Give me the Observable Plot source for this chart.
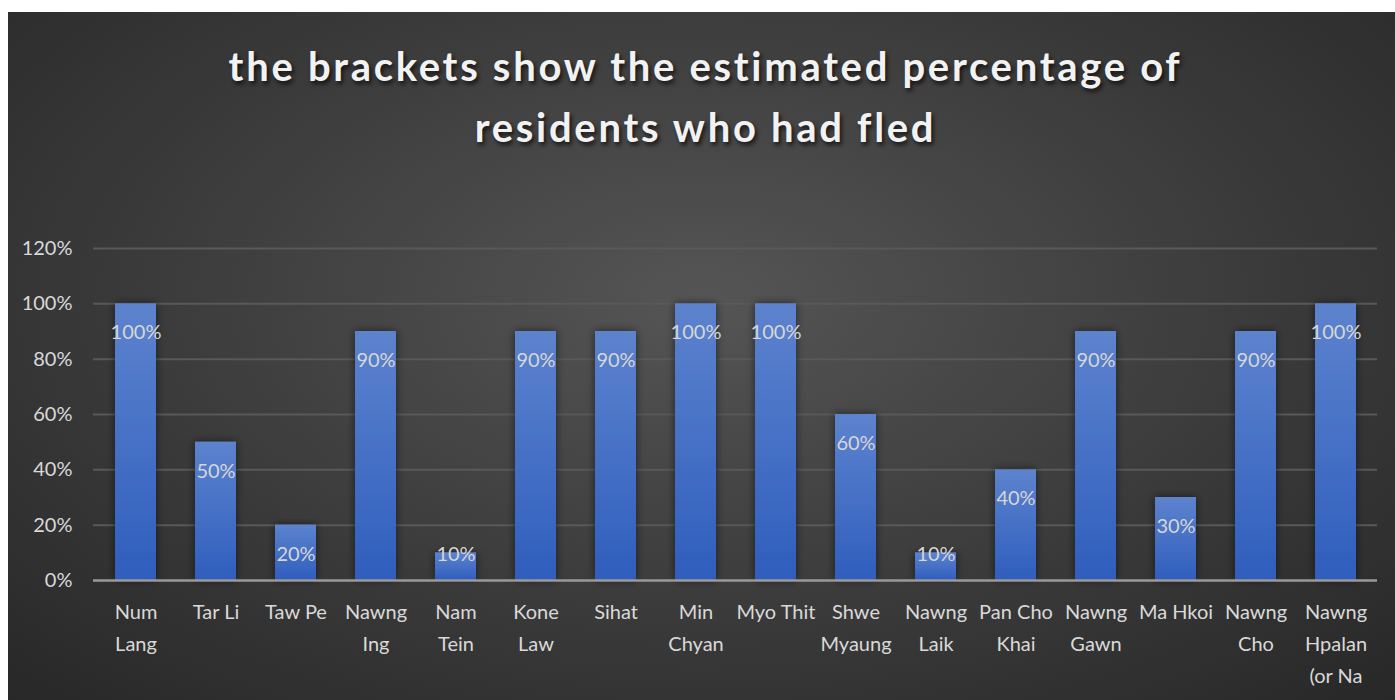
<!DOCTYPE html>
<html>
<head>
<meta charset="utf-8">
<script src="https://cdn.jsdelivr.net/npm/d3@7"></script>
<script src="https://cdn.jsdelivr.net/npm/@observablehq/plot@0.6"></script>
<style>
  html, body { margin: 0; padding: 0; background: #fff; overflow: hidden; }
  #panel {
    position: absolute; left: 8px; top: 12px; width: 1387px; height: 720px; overflow: hidden;
    background: radial-gradient(ellipse 75% 80% at 50% 40%, #555555 0%, #3a3a3a 55%, #262626 100%);
    font-family: Lato, "Open Sans", sans-serif;
  }
  #title {
    position: absolute; left: 0; top: 24px; width: 1395px; text-align: center;
    color: #f2f2f2; font-weight: bold; font-size: 40px; line-height: 61px; letter-spacing: 2.7px;
    text-shadow: 2px 3px 4px rgba(0,0,0,0.7);
  }
  #chart { position: absolute; left: 0; top: 188px; }
</style>
</head>
<body>
<div id="panel">
  <div id="title">the brackets show the estimated percentage of<br>residents who had fled</div>
  <div id="chart"></div>
</div>
<script>
const villages = ["Num Lang", "Tar Li", "Taw Pe", "Nawng Ing", "Nam Tein", "Kone Law", "Sihat", "Min Chyan", "Myo Thit", "Shwe Myaung", "Nawng Laik", "Pan Cho Khai", "Nawng Gawn", "Ma Hkoi", "Nawng Cho", "Nawng Hpalan (or Na Sham)"];
const fledPct = [100, 50, 20, 90, 10, 90, 90, 100, 100, 60, 10, 40, 90, 30, 90, 100];
const tickLabels = ["Num\nLang", "Tar Li", "Taw Pe", "Nawng\nIng", "Nam\nTein", "Kone\nLaw", "Sihat", "Min\nChyan", "Myo Thit", "Shwe\nMyaung", "Nawng\nLaik", "Pan Cho\nKhai", "Nawng\nGawn", "Ma Hkoi", "Nawng\nCho", "Nawng\nHpalan\n(or Na\nSham)"];
const yTicks = [0, 20, 40, 60, 80, 100, 120];

const data = villages.map((v, i) => ({village: v, pct: fledPct[i]}));
const labelOf = new Map(villages.map((v, i) => [v, tickLabels[i]]));

const defs = () => {
  const ns = "http://www.w3.org/2000/svg";
  const d = document.createElementNS(ns, "defs");
  d.innerHTML = `
    <linearGradient id="barGrad" x1="0" y1="0" x2="0" y2="1">
      <stop offset="0" stop-color="#5d83ce"/>
      <stop offset="1" stop-color="#2f5ebd"/>
    </linearGradient>
    <filter id="barShadow" x="-40%" y="-10%" width="180%" height="120%">
      <feDropShadow dx="0" dy="0" stdDeviation="4" flood-color="#000" flood-opacity="0.55"/>
    </filter>`;
  return d;
};

const chart = Plot.plot({
  width: 1387,
  height: 540,
  marginLeft: 85,
  marginRight: 18,
  marginTop: 48,
  marginBottom: 160,
  style: {background: "transparent", fontFamily: "Lato, 'Open Sans', sans-serif", overflow: "visible"},
  x: {domain: villages, paddingInner: 0.49, paddingOuter: 0.245, label: null},
  y: {domain: [0, 120], label: null},
  marks: [
    defs,
    Plot.gridY(yTicks.filter(t => t > 0), {stroke: "#595959", strokeOpacity: 1, strokeWidth: 2}),
    Plot.axisY(yTicks, {tickSize: 0, tickPadding: 21, tickFormat: d => d + "%", fontSize: 20, fill: "#d9d9d9", label: null}),
    Plot.barY(data, {x: "village", y: "pct", fill: "url(#barGrad)"}),
    Plot.ruleY([0], {stroke: "#9a9a9a", strokeWidth: 2.5}),
    Plot.text(data, {x: "village", y: d => Math.max(d.pct, 20), dy: 29, text: d => d.pct + "%", fill: "#d6d6d6", fontSize: 20}),
    Plot.axisX({tickSize: 0, tickPadding: 16, tickFormat: v => labelOf.get(v), fontSize: 20, fill: "#d9d9d9", lineHeight: 1.6, label: null})
  ]
});
chart.querySelectorAll("g[aria-label='bar'] rect").forEach(r => r.setAttribute("filter", "url(#barShadow)"));
document.getElementById("chart").appendChild(chart);
</script>
</body>
</html>
